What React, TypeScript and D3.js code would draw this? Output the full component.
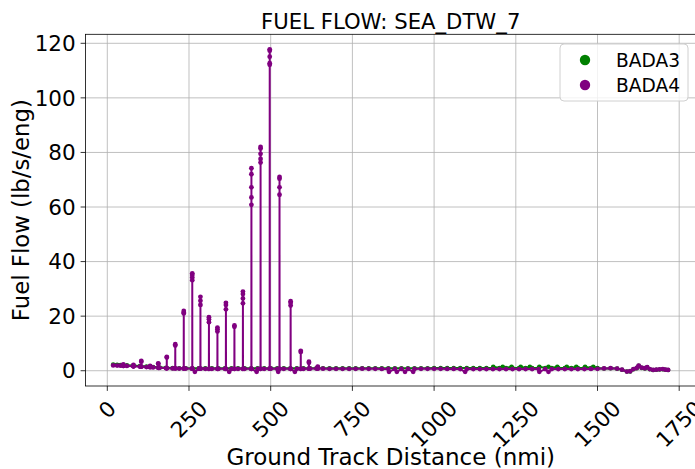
import React from "react";
import * as d3 from "d3";

// ---- data ----
const xTickValues = [0, 250, 500, 750, 1000, 1250, 1500, 1750];
const yTickValues = [0, 20, 40, 60, 80, 100, 120];

const seriesNames = ["BADA3", "BADA4"];
const seriesColors = ["#008000", "#800080"];

// BADA3 baseline (nmi, lb/s/eng)
const bada3Dist = [
  18, 30, 40, 60, 80, 100, 120, 140, 160, 180,
  200, 220, 240, 260, 280, 300, 320, 340, 360, 380,
  400, 420, 440, 460, 480, 500, 520, 540, 560, 580,
  600, 620, 640, 660, 680, 700, 720, 740, 760, 780,
  800, 820, 840, 860, 880, 900, 920, 940, 960, 980,
  1000, 1020, 1040, 1060, 1080, 1100, 1120, 1140, 1160, 1180,
  1200, 1220, 1240, 1260, 1280, 1300, 1320, 1340, 1360, 1380,
  1400, 1420, 1440, 1460, 1480, 1500, 1520, 1540, 1560, 1575,
  1590, 1600, 1610, 1620, 1626, 1635, 1645, 1652, 1660, 1670,
  1680, 1690, 1700, 1708, 1716,
];
const bada3Flow = [
  2.3, 2.2, 2.1, 2.0, 1.85, 1.7, 1.5, 1.35, 1.2, 1.05,
  0.95, 0.9, 0.9, 0.85, 0.85, 0.85, 0.85, 0.85, 0.85, 0.85,
  0.85, 0.85, 0.85, 0.85, 0.85, 0.9, 0.85, 0.85, 0.85, 0.85,
  0.85, 0.9, 0.9, 0.9, 0.85, 0.85, 0.85, 0.85, 0.85, 0.9,
  0.9, 0.9, 0.9, 0.9, 0.9, 0.9, 0.9, 0.9, 0.9, 0.9,
  0.95, 0.95, 0.95, 0.95, 1.0, 1.0, 1.0, 1.0, 1.0, 1.0,
  1.0, 1.0, 1.0, 1.0, 1.0, 1.0, 1.0, 1.0, 1.0, 1.0,
  1.0, 1.0, 1.0, 1.0, 1.0, 0.95, 0.8, 0.9, 0.75, 0.35,
  -0.3, -0.25, 0.55, 0.95, 1.8, 1.05, 0.85, 1.25, 0.55, 0.25,
  0.35, 0.45, 0.55, 0.35, 0.25,
];
// BADA3 small bumps
const bada3BumpDist = [1181, 1210, 1237, 1265, 1293, 1322, 1350, 1377, 1406, 1435, 1462, 1487];
const bada3BumpFlow = [1.45, 1.45, 1.45, 1.45, 1.45, 1.45, 1.45, 1.45, 1.45, 1.45, 1.45, 1.45];

// BADA4 baseline
const bada4Dist = [
  18, 30, 40, 60, 80, 100, 120, 140, 160, 180,
  200, 220, 240, 260, 280, 300, 320, 340, 360, 380,
  400, 420, 440, 460, 480, 500, 520, 540, 560, 580,
  600, 620, 640, 660, 680, 700, 720, 740, 760, 780,
  800, 820, 840, 860, 880, 900, 920, 940, 960, 980,
  1000, 1020, 1040, 1060, 1080, 1100, 1120, 1140, 1160, 1180,
  1200, 1220, 1240, 1260, 1280, 1300, 1320, 1340, 1360, 1380,
  1400, 1420, 1440, 1460, 1480, 1500, 1520, 1540, 1560, 1575,
  1590, 1600, 1610, 1620, 1626, 1635, 1645, 1652, 1660, 1670,
  1680, 1690, 1700, 1708, 1716,
];
const bada4Flow = [
  1.95, 1.9, 1.85, 1.75, 1.6, 1.5, 1.35, 1.2, 1.05, 0.95,
  0.85, 0.8, 0.8, 0.75, 0.75, 0.7, 0.7, 0.7, 0.7, 0.7,
  0.7, 0.7, 0.7, 0.7, 0.7, 0.75, 0.7, 0.7, 0.7, 0.7,
  0.7, 0.75, 0.8, 0.75, 0.7, 0.7, 0.7, 0.7, 0.7, 0.75,
  0.7, 0.7, 0.65, 0.65, 0.65, 0.65, 0.65, 0.65, 0.7, 0.7,
  0.7, 0.7, 0.65, 0.65, 0.6, 0.6, 0.6, 0.6, 0.6, 0.6,
  0.6, 0.6, 0.6, 0.6, 0.6, 0.6, 0.6, 0.6, 0.6, 0.6,
  0.6, 0.6, 0.6, 0.6, 0.65, 0.7, 0.85, 0.95, 0.8, 0.4,
  -0.3, -0.2, 0.6, 1.0, 1.9, 1.1, 0.9, 1.3, 0.6, 0.3,
  0.4, 0.5, 0.6, 0.4, 0.3,
];
// BADA4 spikes: distance, flow at the foot, flows at the top cluster
const spikeDist = [49, 80, 104, 131, 156, 182, 208, 234, 260, 285, 311, 337, 363, 389, 415, 441, 469, 497, 527, 561, 592, 617, 644];
const spikeFoot = [1.75, 1.6, 1.5, 1.3, 1.05, 0.9, 0.85, 0.8, 0.75, 0.75, 0.7, 0.7, 0.7, 0.7, 0.7, 0.7, 0.7, 0.75, 0.7, 0.7, 0.7, 0.75, 0.8];
const spikeTops = [
  [2.3],
  [2.1],
  [3.3, 3.6],
  [1.8],
  [2.5, 2.7],
  [4.8, 5.1],
  [9.2, 9.7],
  [21.0, 21.3, 21.9],
  [33.2, 34.2, 35.1, 35.7],
  [24.1, 25.6, 27.1],
  [17.8, 18.9, 19.6],
  [14.4, 15.2, 15.8],
  [22.5, 24.1, 24.9],
  [16.1, 16.6],
  [24.7, 26.5, 28.1, 29.0],
  [60.8, 63.5, 67.2, 72.0, 74.2],
  [76.3, 77.6, 79.5, 81.4, 82.0],
  [112.1, 112.7, 115.1, 117.3, 117.8],
  [64.5, 67.2, 70.4, 71.0],
  [23.9, 24.9, 25.5],
  [6.9, 7.3],
  [2.9, 3.3],
  [1.3, 1.5],
];
// BADA4 dips below the baseline
const dipDist = [268, 373, 457, 523, 574, 862, 886, 911, 936, 1095, 1322, 1350];
const dipFlow = [-0.4, -0.4, -0.4, -0.4, -0.4, -0.4, -0.4, -0.4, -0.4, -0.4, -0.4, -0.4];

type Pt = { d: number; v: number };

function buildBada3(): Pt[] {
  const pts: Pt[] = bada3Dist.map((d, i) => ({ d, v: bada3Flow[i] }));
  bada3BumpDist.forEach((d, i) => pts.push({ d, v: bada3BumpFlow[i] }));
  return pts.sort((a, b) => a.d - b.d);
}

function buildBada4(): Pt[] {
  const pts: Pt[] = bada4Dist.map((d, i) => ({ d, v: bada4Flow[i] }));
  spikeDist.forEach((d, i) => {
    pts.push({ d: d - 0.2, v: spikeFoot[i] });
    spikeTops[i].forEach((t) => pts.push({ d, v: t }));
    pts.push({ d: d + 0.2, v: spikeFoot[i] });
  });
  dipDist.forEach((d, i) => pts.push({ d, v: dipFlow[i] }));
  return pts.sort((a, b) => a.d - b.d);
}

const W = 695;
const H = 469;
const L = 85.5;
const T = 34.3;
const R = 696;
const B = 386;
const FONT = "'DejaVu Sans', sans-serif";
const tickFs = 21.5;

export default function App() {
  const x = d3.scaleLinear().domain([-66.7, 1801.4]).range([L, R]);
  const y = d3.scaleLinear().domain([-5.6, 123.3]).range([B, T]);
  const line = d3
    .line<Pt>()
    .x((p) => x(p.d))
    .y((p) => y(p.v));

  const s3 = buildBada3();
  const s4 = buildBada4();
  const series = [s3, s4];
  const lineWidths = [2.2, 2.0];
  const markerR = [2.3, 2.4];

  const xLabelSide = (s: string) => (s.length * 0.636 * tickFs + 1.164 * tickFs) / Math.SQRT2;

  return (
    <svg width={W} height={H} style={{ display: "block", position: "absolute", left: 0, top: 0 }} fontFamily={FONT}>
      <rect x={0} y={0} width={W} height={H} fill="#ffffff" />
      <defs>
        <clipPath id="plotclip">
          <rect x={L} y={T} width={R - L} height={B - T} />
        </clipPath>
      </defs>
      {/* grid */}
      <g stroke="#b0b0b0" strokeWidth={0.8}>
        {xTickValues.map((t) => (
          <line key={"gx" + t} x1={x(t)} x2={x(t)} y1={T} y2={B} />
        ))}
        {yTickValues.map((t) => (
          <line key={"gy" + t} x1={L} x2={R} y1={y(t)} y2={y(t)} />
        ))}
      </g>
      {/* series */}
      <g clipPath="url(#plotclip)">
        {series.map((s, si) => (
          <g key={"s" + si}>
            <path d={line(s) || ""} fill="none" stroke={seriesColors[si]} strokeWidth={lineWidths[si]} strokeLinejoin="round" />
            {s.map((p, i) => (
              <circle key={i} cx={x(p.d)} cy={y(p.v)} r={markerR[si]} fill={seriesColors[si]} />
            ))}
          </g>
        ))}
      </g>
      {/* spines */}
      <rect x={L} y={T} width={R - L} height={B - T} fill="none" stroke="#000" strokeWidth={0.8} />
      {/* x ticks */}
      {xTickValues.map((t) => {
        const lbl = String(t);
        const side = xLabelSide(lbl);
        const cx = x(t);
        const cy = B + 9.8 + side / 2;
        return (
          <g key={"xt" + t}>
            <line x1={cx} x2={cx} y1={B} y2={B + 4.9} stroke="#000" strokeWidth={0.8} />
            <text
              transform={`translate(${cx},${cy}) rotate(-45)`}
              textAnchor="middle"
              dy="0.35em"
              fontSize={tickFs}
              fill="#000"
            >
              {lbl}
            </text>
          </g>
        );
      })}
      {/* y ticks */}
      {yTickValues.map((t) => (
        <g key={"yt" + t}>
          <line x1={L - 4.9} x2={L} y1={y(t)} y2={y(t)} stroke="#000" strokeWidth={0.8} />
          <text x={L - 9.8} y={y(t)} dy="0.36em" textAnchor="end" fontSize={tickFs} fill="#000">
            {t}
          </text>
        </g>
      ))}
      {/* labels */}
      <text x={(L + R) / 2} y={28.5} textAnchor="middle" fontSize={21.2} fill="#000">
        FUEL FLOW: SEA_DTW_7
      </text>
      <text x={(L + R) / 2} y={465} textAnchor="middle" fontSize={23} fill="#000">
        Ground Track Distance (nmi)
      </text>
      <text transform={`translate(29,${(T + B) / 2}) rotate(-90)`} textAnchor="middle" fontSize={22.8} fill="#000">
        Fuel Flow (lb/s/eng)
      </text>
      {/* legend */}
      <g>
        <rect x={560} y={44} width={128} height={57} rx={4} fill="#ffffff" fillOpacity={0.8} stroke="#d0d0d0" strokeWidth={1} />
        {seriesNames.map((n, i) => (
          <g key={n}>
            <circle cx={585} cy={60 + i * 25} r={5.2} fill={seriesColors[i]} />
            <text x={616} y={66.5 + i * 25} fontSize={18.6} fill="#000">
              {n}
            </text>
          </g>
        ))}
      </g>
    </svg>
  );
}
